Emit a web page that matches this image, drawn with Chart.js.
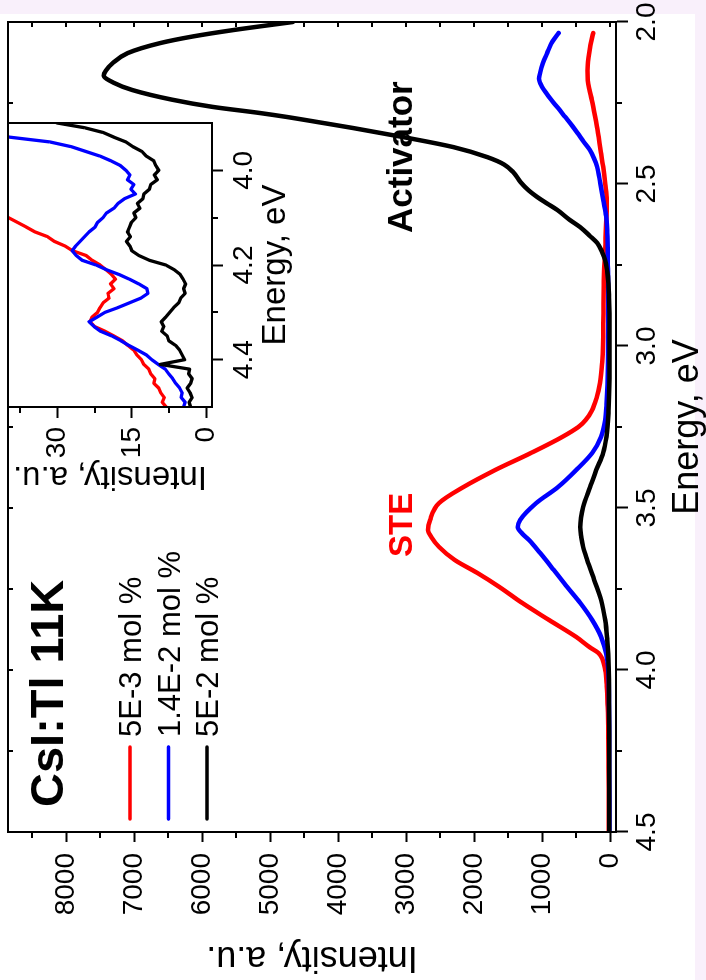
<!DOCTYPE html>
<html>
<head>
<meta charset="utf-8">
<title>CsI:Tl 11K emission spectra</title>
<script src="https://cdn.jsdelivr.net/npm/chart.js@4/dist/chart.umd.min.js"></script>
<style>
  html, body { margin: 0; padding: 0; width: 706px; height: 980px; overflow: hidden; background: #f9f0fb; }
  /* the figure is laid out landscape and turned a quarter turn counter-clockwise */
  #stage { position: absolute; left: 0; top: 0; width: 980px; height: 706px;
           transform-origin: 0 0; transform: translate(0, 980px) rotate(-90deg); }
  #main { position: absolute; left: 0; top: 0; }
  #inset { position: absolute; left: 470px; top: 0; }
</style>
</head>
<body>
<div id="stage">
  <canvas id="main" width="980" height="706"></canvas>
  <canvas id="inset" width="400" height="310"></canvas>
</div>
<script>
// ---- data ---------------------------------------------------------------
const seriesLabels = ['5E-3 mol %', '1.4E-2 mol %', '5E-2 mol %'];

const energyTicks = [2.0, 2.5, 3.0, 3.5, 4.0, 4.5];
const energyMinorTicks = [2.25, 2.75, 3.25, 3.75, 4.25];
const intensityTicks = [0, 1000, 2000, 3000, 4000, 5000, 6000, 7000, 8000];
const intensityMinorTicks = [500, 1500, 2500, 3500, 4500, 5500, 6500, 7500, 8500];

const insetEnergyTicks = [4.0, 4.2, 4.4];
const insetEnergyMinorTicks = [4.1, 4.3];
const insetIntensityTicks = [0, 15, 30];
const insetIntensityMinorTicks = [7.5, 22.5, 37.5];

// 5E-3 mol %
const redEnergy = [2.034, 2.07, 2.11, 2.15, 2.18, 2.21, 2.24, 2.29, 2.343, 2.40, 2.447, 2.50, 2.55, 2.60,
  2.70, 2.80, 2.90, 3.00, 3.05, 3.114, 3.16, 3.20, 3.228, 3.25, 3.28, 3.33, 3.383, 3.435, 3.485, 3.537,
  3.568, 3.59, 3.62, 3.66, 3.70, 3.744, 3.793, 3.846, 3.898, 3.93, 3.948, 4.00, 4.05, 4.114, 4.20, 4.30,
  4.40, 4.50];
const redIntensity = [250, 290, 320, 335, 330, 305, 272, 225, 180, 140, 103, 72, 50, 55,
  75, 95, 100, 105, 118, 150, 200, 270, 360, 470, 700, 1164, 1694, 2158, 2519, 2651,
  2680, 2630, 2519, 2290, 1959, 1628, 1296, 898, 501, 300, 169, 74, 50, 37, 28, 24,
  22, 20];

// 1.4E-2 mol %
const blueEnergy = [2.034, 2.06, 2.096, 2.127, 2.157, 2.175, 2.20, 2.22, 2.24, 2.265, 2.293, 2.32, 2.343,
  2.37, 2.395, 2.42, 2.447, 2.497, 2.549, 2.60, 2.65, 2.75, 2.85, 2.95, 3.05, 3.12, 3.18, 3.228, 3.28,
  3.33, 3.383, 3.435, 3.485, 3.537, 3.559, 3.58, 3.599, 3.639, 3.691, 3.744, 3.793, 3.846, 3.898, 3.95,
  4.00, 4.10, 4.20, 4.30, 4.40, 4.50];
const blueIntensity = [760, 850, 928, 990, 1031, 1046, 1002, 940, 869, 770, 663, 560, 480,
  390, 300, 240, 192, 147, 103, 59, 44, 35, 30, 30, 32, 40, 55, 74, 133,
  265, 501, 766, 1090, 1326, 1362, 1290, 1193, 1031, 832, 633, 442, 265, 133, 60,
  29, 18, 15, 13, 12, 12];

// 5E-2 mol %
const blackEnergy = [2.0, 2.025, 2.045, 2.065, 2.096, 2.127, 2.15, 2.165, 2.188, 2.21, 2.24, 2.262, 2.281,
  2.293, 2.31, 2.327, 2.355, 2.386, 2.417, 2.44, 2.463, 2.494, 2.52, 2.54, 2.56, 2.58, 2.61, 2.633,
  2.66, 2.682, 2.71, 2.735, 2.77, 2.80, 2.85, 2.90, 3.00, 3.10, 3.20, 3.28, 3.33, 3.383, 3.435, 3.497,
  3.53, 3.559, 3.59, 3.62, 3.66, 3.722, 3.784, 3.846, 3.907, 3.95, 4.00, 4.10, 4.20, 4.30, 4.40, 4.50];
const blackIntensity = [4670, 5550, 6150, 6620, 7100, 7320, 7420, 7450, 7300, 7030, 6440, 5850, 5150,
  4760, 4270, 3790, 3050, 2310, 1810, 1560, 1430, 1320, 1200, 1075, 930, 780, 600, 442,
  300, 192, 120, 74, 45, 29, 18, 12, 10, 12, 25, 55, 103, 206, 295, 398,
  430, 442, 425, 398, 339, 236, 133, 74, 44, 30, 22, 18, 16, 15, 14, 14];

// inset: high-energy part of the spectra
const insetEnergy = [3.90, 3.91, 3.92, 3.93, 3.94, 3.95, 3.96, 3.97, 3.98, 3.99,
  4.00, 4.01, 4.02, 4.03, 4.04, 4.05, 4.06, 4.07, 4.08, 4.09,
  4.10, 4.11, 4.12, 4.13, 4.14, 4.15, 4.16, 4.17, 4.18, 4.19,
  4.20, 4.21, 4.22, 4.23, 4.24, 4.25, 4.26, 4.27, 4.28, 4.29,
  4.30, 4.31, 4.32, 4.33, 4.34, 4.35, 4.36, 4.37, 4.38, 4.39,
  4.40, 4.41, 4.42, 4.43, 4.44, 4.45, 4.46, 4.47, 4.48, 4.49, 4.50];
const insetRed = [null, null, null, null, null, null, null, null, null, null,
  null, null, null, null, null, null, null, null, null, 42.0,
  39.8, 38.0, 36.2, 34.5, 32.0, 30.6, 28.4, 26.9, 24.2, 23.0,
  21.4, 20.2, 19.1, 18.3, 19.3, 18.6, 19.8, 19.6, 20.8, 21.4,
  21.9, 23.0, 23.4, 22.5, 20.4, 18.6, 16.9, 15.8, 14.6, 14.0,
  13.1, 12.6, 11.6, 11.2, 10.4, 10.6, 9.6, 9.2, 8.5, 8.9, 8.1];
const insetBlue = [null, null, 44.0, 39.5, 31.5, 27.2, 24.3, 21.4, 19.2, 17.3,
  16.2, 15.4, 15.9, 14.6, 15.2, 14.3, 16.5, 17.8, 18.6, 20.1,
  20.8, 21.9, 22.4, 23.6, 24.5, 25.4, 26.3, 27.0, 26.2, 25.0,
  22.2, 20.1, 17.6, 15.5, 13.6, 12.0, 11.8, 13.2, 15.5, 17.8,
  20.4, 22.0, 23.6, 22.6, 21.3, 19.0, 17.2, 15.6, 13.8, 12.1,
  11.0, 9.7, 8.3, 7.6, 6.8, 6.2, 5.4, 4.9, 5.1, 4.3, 4.6];
const insetBlack = [30.0, 24.5, 20.8, 18.6, 16.2, 14.8, 13.0, 12.1, 10.6, 10.2,
  9.6, 10.5, 9.9, 11.2, 11.5, 12.6, 12.8, 13.9, 13.4, 14.6,
  14.2, 15.1, 15.5, 15.9, 15.3, 16.1, 15.4, 15.0, 13.6, 11.5,
  8.2, 6.5, 5.3, 4.7, 4.2, 4.6, 4.3, 5.2, 5.6, 6.6,
  7.4, 8.2, 9.1, 8.6, 9.0, 7.9, 7.6, 6.2, 5.4, 4.9,
  4.4, 9.3, 3.4, 3.6, 2.9, 3.2, 3.9, 3.3, 2.9, 3.5, 3.2];

// ---- styling ------------------------------------------------------------
const FONT = "'Liberation Sans', Arial, Helvetica, sans-serif";
const RED = '#ff0000', BLUE = '#0000ff', BLACK = '#000000';
const seriesColors = [RED, BLUE, BLACK];

const pts = (xs, ys) => xs.map((x, i) => ({ x: x, y: ys[i] })).filter(p => p.y !== null);
const fixedTicks = values => scale => { scale.ticks = values.map(v => ({ value: v })); };

// box around the plot area, minor ticks and inward mirror ticks
function framePlugin(o) {
  return {
    id: 'frame',
    beforeDraw(chart) {
      const ctx = chart.ctx;
      ctx.save();
      ctx.fillStyle = '#ffffff';
      if (o.page) ctx.fillRect(0, 0, o.page.w, o.page.h);
      else {
        const a = chart.chartArea;
        ctx.fillRect(a.left, a.top, a.right - a.left, a.bottom - a.top);
      }
      ctx.restore();
    },
    afterDraw(chart) {
      const ctx = chart.ctx, a = chart.chartArea;
      const xs = chart.scales.x, ys = chart.scales.y;
      ctx.save();
      ctx.strokeStyle = '#000';
      ctx.lineWidth = 2;
      ctx.lineCap = 'butt';
      ctx.beginPath();
      o.xMinor.forEach(v => {
        const p = Math.round(xs.getPixelForValue(v));
        ctx.moveTo(p, a.bottom); ctx.lineTo(p, a.bottom + o.minorLen);
      });
      o.yMinor.forEach(v => {
        const p = Math.round(ys.getPixelForValue(v));
        if (p < a.top) return;
        ctx.moveTo(a.left, p); ctx.lineTo(a.left - o.minorLen, p);
      });
      if (o.mirror) {
        o.xMajor.concat(o.xMinor).forEach(v => {
          const p = Math.round(xs.getPixelForValue(v));
          ctx.moveTo(p, a.top); ctx.lineTo(p, a.top + o.mirror);
        });
        o.yMajor.concat(o.yMinor).forEach(v => {
          const p = Math.round(ys.getPixelForValue(v));
          if (p < a.top) return;
          ctx.moveTo(a.right, p); ctx.lineTo(a.right - o.mirror, p);
        });
      }
      ctx.stroke();
      ctx.strokeRect(a.left, a.top, a.right - a.left, a.bottom - a.top);
      ctx.restore();
    }
  };
}

// sample name, legend and peak labels
const notesPlugin = {
  id: 'notes',
  afterDraw(chart) {
    const ctx = chart.ctx;
    ctx.save();
    ctx.textBaseline = 'alphabetic';
    ctx.textAlign = 'left';
    ctx.fillStyle = '#000';
    ctx.font = 'bold 47px ' + FONT;
    ctx.fillText('CsI:Tl 11K', 173, 63);

    ctx.font = '31px ' + FONT;
    const rows = [130, 168.5, 207];
    seriesLabels.forEach((label, i) => {
      ctx.strokeStyle = seriesColors[i];
      ctx.lineWidth = 3.5;
      ctx.lineCap = 'round';
      ctx.beginPath();
      ctx.moveTo(161, rows[i]); ctx.lineTo(233, rows[i]);
      ctx.stroke();
      ctx.fillStyle = '#000';
      ctx.fillText(label, 243, rows[i] + 11);
    });

    ctx.font = 'bold 33px ' + FONT;
    ctx.fillStyle = RED;
    ctx.fillText('STE', 423, 412);
    ctx.font = 'bold 35px ' + FONT;
    ctx.fillStyle = '#000';
    ctx.fillText('Activator', 747, 412);
    ctx.restore();
  }
};

function axisGrid(len) {
  return { display: true, drawOnChartArea: false, drawTicks: true, tickLength: len,
           tickWidth: 2, tickColor: '#000', color: '#000' };
}

// ---- main spectra -------------------------------------------------------
new Chart(document.getElementById('main'), {
  type: 'line',
  data: {
    datasets: [
      { label: seriesLabels[0], data: pts(redEnergy, redIntensity), borderColor: RED, borderWidth: 4.5, order: 2 },
      { label: seriesLabels[1], data: pts(blueEnergy, blueIntensity), borderColor: BLUE, borderWidth: 4.5, order: 1 },
      { label: seriesLabels[2], data: pts(blackEnergy, blackIntensity), borderColor: BLACK, borderWidth: 4.5, order: 0 }
    ]
  },
  options: {
    responsive: false,
    animation: false,
    devicePixelRatio: 1,
    layout: { padding: { top: 8, right: 22, left: 0, bottom: 0 } },
    elements: {
      point: { radius: 0 },
      line: { cubicInterpolationMode: 'monotone', borderCapStyle: 'round', borderJoinStyle: 'round', fill: false }
    },
    plugins: { legend: { display: false }, tooltip: { enabled: false } },
    scales: {
      x: {
        type: 'linear', position: 'bottom', min: 2.0, max: 4.5, reverse: true,
        afterBuildTicks: fixedTicks(energyTicks),
        afterFit: s => { s.height = 90; s.paddingLeft = 0; s.paddingRight = 0; },
        grid: axisGrid(12),
        border: { display: true, color: '#000', width: 2 },
        ticks: { color: '#000', font: { family: FONT, size: 28, lineHeight: 1 }, padding: 5,
                 maxRotation: 0, autoSkip: false, callback: v => v.toFixed(1) },
        title: { display: true, text: 'Energy, eV', color: '#000',
                 font: { family: FONT, size: 36, lineHeight: 1 }, padding: { top: 0, bottom: 0 } }
      },
      y: {
        type: 'linear', position: 'left', min: -85, max: 8860,
        afterBuildTicks: fixedTicks(intensityTicks),
        afterFit: s => { s.width = 148; s.paddingTop = 0; s.paddingBottom = 0; },
        grid: axisGrid(10),
        border: { display: true, color: '#000', width: 2 },
        ticks: { color: '#000', font: { family: FONT, size: 28, lineHeight: 1 }, padding: 11,
                 autoSkip: false, callback: v => String(v) },
        title: { display: true, text: 'Intensity, a.u.', color: '#000',
                 font: { family: FONT, size: 36, lineHeight: 1 }, padding: { top: 5, bottom: 0 } }
      }
    }
  },
  plugins: [
    framePlugin({ page: { w: 966, h: 695 }, xMajor: energyTicks, xMinor: energyMinorTicks,
                  yMajor: intensityTicks, yMinor: intensityMinorTicks, minorLen: 6, mirror: 5 }),
    notesPlugin
  ]
});

// ---- inset: 3.9 - 4.5 eV ------------------------------------------------
new Chart(document.getElementById('inset'), {
  type: 'line',
  data: {
    datasets: [
      { label: seriesLabels[0], data: pts(insetEnergy, insetRed), borderColor: RED, borderWidth: 3.3, order: 2 },
      { label: seriesLabels[1], data: pts(insetEnergy, insetBlue), borderColor: BLUE, borderWidth: 3.3, order: 1 },
      { label: seriesLabels[2], data: pts(insetEnergy, insetBlack), borderColor: BLACK, borderWidth: 3.3, order: 0 }
    ]
  },
  options: {
    responsive: false,
    animation: false,
    devicePixelRatio: 1,
    layout: { padding: { top: 8, right: 13, left: 0, bottom: 0 } },
    elements: {
      point: { radius: 0 },
      line: { tension: 0, borderJoinStyle: 'round', borderCapStyle: 'round', fill: false }
    },
    plugins: { legend: { display: false }, tooltip: { enabled: false } },
    scales: {
      x: {
        type: 'linear', position: 'bottom', min: 3.9, max: 4.5, reverse: true,
        afterBuildTicks: fixedTicks(insetEnergyTicks),
        afterFit: s => { s.height = 98; s.paddingLeft = 0; s.paddingRight = 0; },
        grid: axisGrid(11),
        border: { display: true, color: '#000', width: 2 },
        ticks: { color: '#000', font: { family: FONT, size: 28, lineHeight: 1 }, padding: 7,
                 maxRotation: 0, autoSkip: false, callback: v => v.toFixed(1) },
        title: { display: true, text: 'Energy, eV', color: '#000',
                 font: { family: FONT, size: 33, lineHeight: 1 }, padding: { top: 0, bottom: 18 } }
      },
      y: {
        type: 'linear', position: 'left', min: -1.1, max: 39.9,
        afterBuildTicks: fixedTicks(insetIntensityTicks),
        afterFit: s => { s.width = 103; s.paddingTop = 0; s.paddingBottom = 0; },
        grid: axisGrid(11),
        border: { display: true, color: '#000', width: 2 },
        ticks: { color: '#000', font: { family: FONT, size: 28, lineHeight: 1 }, padding: 9,
                 autoSkip: false, callback: v => String(v) },
        title: { display: true, text: 'Intensity, a.u.', color: '#000',
                 font: { family: FONT, size: 33, lineHeight: 1 }, padding: { top: 17, bottom: 0 } }
      }
    }
  },
  plugins: [
    framePlugin({ xMajor: insetEnergyTicks, xMinor: insetEnergyMinorTicks,
                  yMajor: insetIntensityTicks, yMinor: insetIntensityMinorTicks, minorLen: 6, mirror: 0 })
  ]
});
</script>
</body>
</html>
